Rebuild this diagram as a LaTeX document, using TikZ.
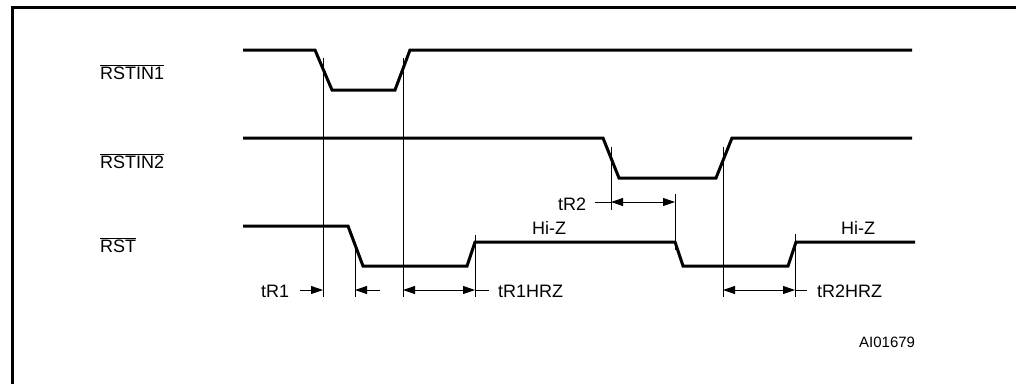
\documentclass[tikz,border=0pt]{standalone}
\usepackage{fontspec}
\setmainfont{Liberation Sans}
\usetikzlibrary{arrows.meta}
\begin{document}
\begin{tikzpicture}[x=1pt,y=-1pt,
  sig/.style={line width=3pt, line join=miter},
  guide/.style={line width=1pt},
  lbl/.style={font=\fontsize{18}{21}\selectfont, inner sep=0pt, anchor=base west},
  small/.style={font=\fontsize{15}{18}\selectfont, inner sep=0pt, anchor=base west},
  dimr/.style={line width=1pt, -{Triangle[length=12pt,width=8pt]}},
  diml/.style={line width=1pt, {Triangle[length=12pt,width=8pt]}-},
  dimb/.style={line width=1pt, {Triangle[length=12pt,width=8pt]}-{Triangle[length=12pt,width=8pt]}},
]
\useasboundingbox (0,0) rectangle (1016,383);
% frame
\draw[line width=3pt] (12.5,400) -- (12.5,7.5) -- (1030,7.5);

% signal labels
\node[lbl] (l1) at (100,79) {$\overline{\mbox{RSTIN1}}$};
\node[lbl] (l2) at (100,168) {$\overline{\mbox{RSTIN2}}$};
\node[lbl] (l3) at (100,252) {$\overline{\mbox{RST}}$};

% waveforms
\draw[sig] (243,50) -- (315,50) -- (332,90) -- (395,90) -- (410,50) -- (912,50);
\draw[sig] (243,138) -- (603,138) -- (619,178) -- (716,178) -- (732,138) -- (912,138);
\draw[sig] (243,226) -- (348,226) -- (363,266) -- (467,266) -- (475,242) -- (675,242)
  -- (683,266) -- (788,266) -- (796,242) -- (915,242);

% guide lines
\coordinate (a1) at (323,58);  \coordinate (a2) at (323,297);
\coordinate (b1) at (355,245); \coordinate (b2) at (355,297);
\coordinate (c1) at (403,58);  \coordinate (c2) at (403,297);
\coordinate (d1) at (475,235); \coordinate (d2) at (475,297);
\coordinate (e1) at (611,147); \coordinate (e2) at (611,210);
\coordinate (f1) at (675,194); \coordinate (f2) at (675,250);
\coordinate (g1) at (723,147); \coordinate (g2) at (723,297);
\coordinate (h1) at (795,234); \coordinate (h2) at (795,297);
\foreach \p in {a,b,c,d,e,f,g,h} \draw[guide] (\p1) -- (\p2);

% tR1
\node[lbl] (tR1) at (261,297) {tR1};
\coordinate (r1s) at (300,290); \coordinate (r1a) at (323,290);
\coordinate (r1b) at (355,290); \coordinate (r1e) at (380,290);
\draw[dimr] (r1s) -- (r1a);
\draw[diml] (r1b) -- (r1e);

% tR1HRZ
\coordinate (h1a) at (403,290); \coordinate (h1b) at (475,290); \coordinate (h1e) at (489,290);
\draw[dimb] (h1a) -- (h1b);
\draw[guide] (h1b) -- (h1e);
\node[lbl] (tR1HRZ) at (498,297) {tR1HRZ};

% tR2
\node[lbl] (tR2) at (558,210) {tR2};
\coordinate (r2s) at (595,202); \coordinate (r2a) at (611,202); \coordinate (r2b) at (675,202);
\draw[guide] (r2s) -- (r2a);
\draw[dimb] (r2a) -- (r2b);

% tR2HRZ
\coordinate (h2a) at (723,290); \coordinate (h2b) at (795,290); \coordinate (h2e) at (807,290);
\draw[dimb] (h2a) -- (h2b);
\draw[guide] (h2b) -- (h2e);
\node[lbl] (tR2HRZ) at (817,297) {tR2HRZ};

% Hi-Z
\node[lbl,anchor=base] (hz1) at (549,234) {Hi-Z};
\node[lbl,anchor=base] (hz2) at (858,234) {Hi-Z};

% figure id
\node[small] (id) at (859,347) {AI01679};
\end{tikzpicture}
\end{document}
